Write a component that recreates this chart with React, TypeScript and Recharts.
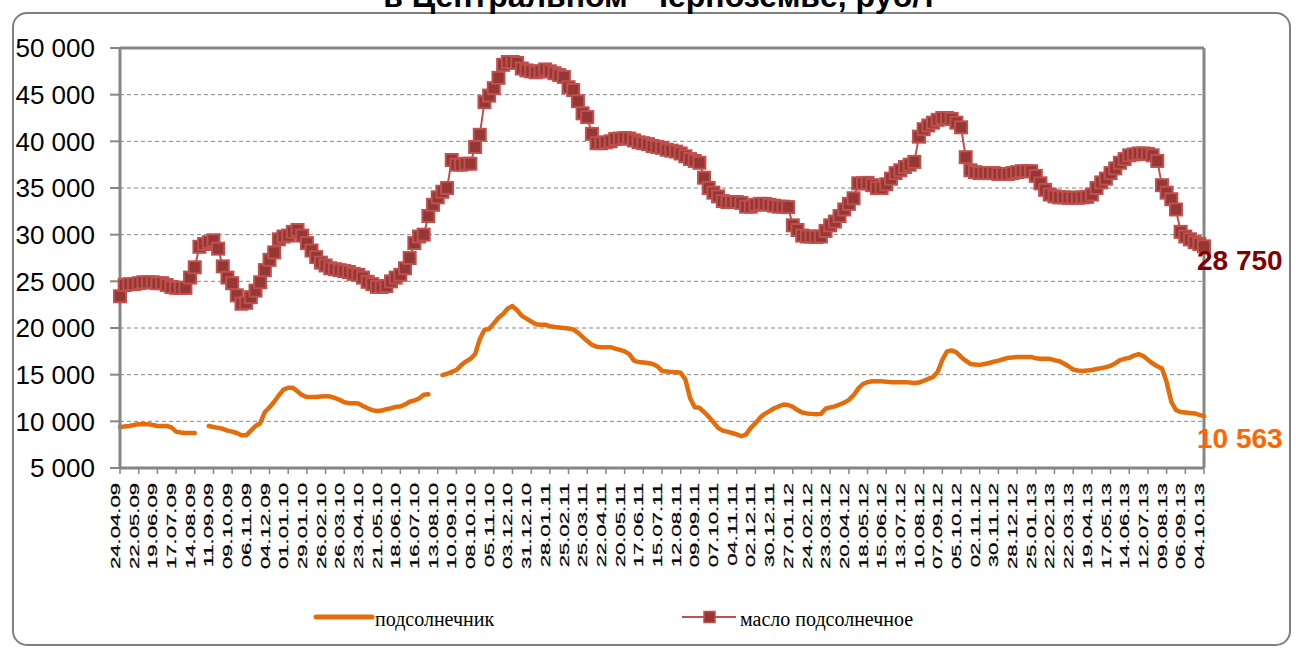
import React from 'react';
import { LineChart, Line, XAxis, YAxis, CartesianGrid, ReferenceLine, LabelList } from 'recharts';

// ---- data ----
const startDate = Date.UTC(2009, 3, 24); // 24.04.09, weekly observations
const weekMs = 7 * 24 * 3600 * 1000;

const sunflower: (number | null)[] = [
  9400, 9450, 9500, 9600, 9700, 9700, 9700, 9600, 9500, 9500,
  9500, 9350, 8900, 8800, 8750, 8750, 8750, null, null, 9500,
  9400, 9300, 9200, 9000, 8900, 8750, 8500, 8500, 9000, 9500,
  9800, 11000, 11500, 12100, 12800, 13400, 13600, 13600, 13200, 12800,
  12600, 12600, 12600, 12650, 12700, 12650, 12500, 12300, 12050, 11950,
  11950, 11900, 11650, 11400, 11200, 11100, 11150, 11300, 11400, 11550,
  11600, 11800, 12100, 12250, 12450, 12850, 12900, null, null, 14950,
  15100, 15300, 15500, 16000, 16400, 16700, 17200, 18800, 19800, 19900,
  20500, 21100, 21500, 22100, 22350, 21900, 21300, 21000, 20700, 20400,
  20350, 20350, 20200, 20100, 20050, 20000, 19950, 19850, 19500, 19050,
  18600, 18200, 18000, 17950, 17950, 17950, 17800, 17650, 17500, 17200,
  16500, 16350, 16300, 16250, 16150, 15900, 15400, 15350, 15300, 15250,
  15200, 14500, 12500, 11500, 11450, 11000, 10500, 9900, 9300, 9000,
  8900, 8750, 8600, 8400, 8600, 9300, 9800, 10400, 10800, 11100,
  11400, 11600, 11800, 11750, 11550, 11200, 10950, 10850, 10800, 10750,
  10800, 11350, 11500, 11600, 11800, 12000, 12300, 12800, 13500, 14000,
  14200, 14300, 14300, 14300, 14250, 14200, 14200, 14200, 14200, 14150,
  14100, 14150, 14350, 14550, 14750, 15300, 16600, 17500, 17600, 17400,
  16900, 16500, 16150, 16100, 16050, 16150, 16250, 16400, 16500, 16650,
  16800, 16850, 16900, 16900, 16900, 16900, 16750, 16700, 16700, 16700,
  16550, 16450, 16200, 15900, 15550, 15450, 15400, 15450, 15500, 15600,
  15700, 15800, 15950, 16200, 16550, 16700, 16800, 17050, 17200, 17000,
  16600, 16200, 15900, 15650, 14200, 12100, 11200, 11000, 10950, 10900,
  10850, 10700, 10563,
];

const oil: number[] = [
  23400, 24600, 24700, 24700, 24800, 24900, 24900, 24900, 24800, 24800,
  24600, 24400, 24300, 24300, 24300, 25400, 26500, 28700, 29000, 29200,
  29400, 28500, 26600, 25400, 24800, 23500, 22600, 22700, 23300, 24000,
  24900, 26200, 27300, 28100, 29500, 29800, 29900, 30300, 30500, 29900,
  29100, 28300, 27600, 27000, 26700, 26400, 26300, 26200, 26100, 26000,
  25800, 25700, 25400, 24950, 24700, 24400, 24400, 24500, 25000, 25400,
  25700, 26400, 27500, 29100, 29800, 30000, 32000, 33200, 34000, 34600,
  35000, 38000, 37500, 37500, 37600, 37600, 39400, 40700, 44200, 44900,
  45700, 46800, 48200, 48500, 48500, 48400, 47800, 47600, 47500, 47400,
  47500, 47700, 47500, 47300, 47100, 46900, 45800, 45500, 44300, 43000,
  42600, 40800, 39800, 39800, 39900, 40000, 40250, 40300, 40350, 40300,
  40100, 39900, 39800, 39700, 39500, 39400, 39300, 39100, 39000, 38900,
  38700, 38400, 38100, 37900, 37700, 36100, 35000, 34500, 34100, 33600,
  33500, 33500, 33500, 33400, 33000, 33000, 33200, 33300, 33300, 33200,
  33100, 33000, 33000, 32950, 31000, 30500, 29900, 29800, 29800, 29750,
  29800, 30400, 31000, 31400, 32000, 32700, 33300, 33900, 35500, 35500,
  35550, 35300, 35000, 35000, 35400, 36000, 36600, 36900, 37250, 37500,
  37800, 40500, 41300, 41700, 42000, 42300, 42500, 42500, 42400, 42000,
  41500, 38300, 36900, 36700, 36600, 36600, 36600, 36600, 36500, 36500,
  36500, 36600, 36700, 36800, 36800, 36800, 36300, 35500, 34800, 34300,
  34100, 34000, 34000, 33950, 33950, 33950, 34000, 34050, 34300, 35000,
  35600, 36000, 36600, 37100, 37700, 38100, 38500, 38600, 38700, 38700,
  38650, 38500, 37900, 35300, 34500, 33800, 32700, 30300, 29800, 29500,
  29200, 29000, 28750,
];

const pad2 = (n: number) => (n < 10 ? '0' + n : String(n));
const categories: string[] = oil.map((_, i) => {
  const d = new Date(startDate + i * weekMs);
  return `${pad2(d.getUTCDate())}.${pad2(d.getUTCMonth() + 1)}.${pad2(d.getUTCFullYear() % 100)}`;
});

const yTicks = [5000, 10000, 15000, 20000, 25000, 30000, 35000, 40000, 45000, 50000];
const seriesNames = ['подсолнечник', 'масло подсолнечное'];
const titleText = 'в Центральном  Черноземье, руб/т';

const data = categories.map((date, i) => ({ date, sunflower: sunflower[i], oil: oil[i] }));
const lastIndex = categories.length - 1;

// ---- style ----
const SANS = '"Liberation Sans", Arial, sans-serif';
const SERIF = '"Liberation Serif", "Times New Roman", serif';
const GRAY = '#868686';
const ORANGE = '#E46C0A';
const OIL_LINE = '#C0504D';
const OIL_FILL = '#953735';

const fmt = (v: number) => String(Math.round(v)).replace(/\B(?=(\d{3})+(?!\d))/g, ' ');

const YTick = (props: any) => {
  const { x, y, payload } = props;
  return (
    <text x={x} y={y} dy="0.355em" textAnchor="end" fontFamily={SANS} fontSize={26} fill="#000">
      {fmt(payload.value)}
    </text>
  );
};

const XTick = (props: any) => {
  const { x, y, payload } = props;
  return (
    <text
      transform={`translate(${x},${y}) rotate(-90) scale(1.7,1)`}
      textAnchor="end"
      fontFamily={SANS}
      fontSize={13}
      fill="#000"
      stroke="#000"
      strokeWidth={0.25}
    >
      {payload.value}
    </text>
  );
};

const OilDot = (props: any) => {
  const { cx, cy, index } = props;
  if (cx == null || cy == null) return <g key={`d${index}`} />;
  return (
    <rect key={`d${index}`} x={cx - 6} y={cy - 6} width={12} height={12} fill={OIL_FILL} stroke={OIL_LINE} strokeWidth={2} />
  );
};

const OilEnd = (props: any) => {
  const { x, y, index, value } = props;
  if (index !== lastIndex) return null;
  return (
    <text x={x - 7} y={y + 24} fontFamily={SANS} fontSize={28} fontWeight="bold" fill="#800000">
      {fmt(value)}
    </text>
  );
};

const SunEnd = (props: any) => {
  const { x, y, index, value } = props;
  if (index !== lastIndex) return null;
  return (
    <text x={x - 7} y={y + 32} fontFamily={SANS} fontSize={28} fontWeight="bold" fill="#FF6600">
      {fmt(value)}
    </text>
  );
};

export default function App() {
  return (
    <div style={{ position: 'absolute', left: 0, top: 0, width: 1296, height: 650, background: '#fff', overflow: 'hidden' }}>
      <svg width={1296} height={650} style={{ position: 'absolute', left: 0, top: 0 }}>
        <rect x={13} y={13} width={1277} height={632} rx={14} ry={14} fill="none" stroke="#7F7F7F" strokeWidth={2} />
        <text x={660} y={7} textAnchor="middle" fontFamily={SANS} fontWeight="bold" fontSize={32} fill="#000" style={{ whiteSpace: 'pre' }}>
          {titleText}
        </text>
        {/* legend */}
        <line x1={316} y1={617} x2={372} y2={617} stroke={ORANGE} strokeWidth={5} strokeLinecap="round" />
        <text x={375} y={626} fontFamily={SERIF} fontSize={20} fill="#000">{seriesNames[0]}</text>
        <line x1={682} y1={617} x2={736} y2={617} stroke={OIL_LINE} strokeWidth={2} />
        <rect x={704} y={611.5} width={11} height={11} fill={OIL_FILL} stroke={OIL_LINE} strokeWidth={1.5} />
        <text x={740} y={626} fontFamily={SERIF} fontSize={20} fill="#000">{seriesNames[1]}</text>
      </svg>
      <div style={{ position: 'absolute', left: 0, top: 0 }}>
        <LineChart width={1296} height={650} data={data} margin={{ top: 48, right: 92, bottom: 72, left: 20 }}>
          <CartesianGrid horizontal vertical={false} stroke={GRAY} strokeDasharray="4 3" strokeWidth={1} />
          <XAxis
            dataKey="date"
            interval={3}
            height={110}
            axisLine={{ stroke: GRAY, strokeWidth: 3 }}
            tickLine={{ stroke: GRAY, strokeWidth: 1.5 }}
            tickSize={6}
            tickMargin={9}
            tick={<XTick />}
          />
          <YAxis
            width={100}
            domain={[5000, 50000]}
            ticks={yTicks}
            interval={0}
            allowDataOverflow
            axisLine={{ stroke: GRAY, strokeWidth: 3 }}
            tickLine={{ stroke: GRAY, strokeWidth: 2 }}
            tickSize={10}
            tickMargin={15}
            tick={<YTick />}
          />
          <ReferenceLine y={50000} stroke={GRAY} strokeWidth={3} />
          <ReferenceLine x={categories[lastIndex]} stroke={GRAY} strokeWidth={3} />
          <Line
            type="linear"
            dataKey="sunflower"
            name={seriesNames[0]}
            stroke={ORANGE}
            strokeWidth={4.5}
            strokeLinejoin="round"
            strokeLinecap="round"
            dot={false}
            activeDot={false}
            connectNulls={false}
            isAnimationActive={false}
          >
            <LabelList dataKey="sunflower" content={<SunEnd />} />
          </Line>
          <Line
            type="linear"
            dataKey="oil"
            name={seriesNames[1]}
            stroke={OIL_LINE}
            strokeWidth={2}
            dot={<OilDot />}
            activeDot={false}
            isAnimationActive={false}
          >
            <LabelList dataKey="oil" content={<OilEnd />} />
          </Line>
        </LineChart>
      </div>
    </div>
  );
}
